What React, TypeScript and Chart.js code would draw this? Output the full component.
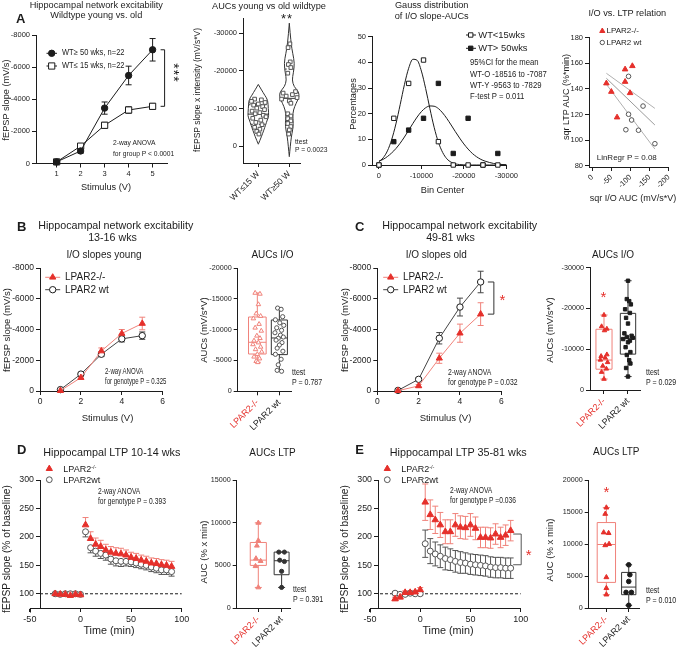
import React, { useEffect, useRef } from 'react';
import { Chart, registerables } from 'chart.js';
Chart.register(...registerables);

// ---------------- DATA ----------------
// A: wildtype young vs old I/O
const stimA = [1, 2, 3, 4, 5];
const wtOldIO = [-100, -780, -3450, -5480, -7080];
const wtOldIOErr = [60, 140, 380, 580, 700];
const wtYoungIO = [-100, -1080, -2380, -3330, -3560];
const wtYoungIOErr = [50, 90, 180, 200, 180];
const ioTicks = [-8000, -6000, -4000, -2000, 0];

// A: violin AUCs
const violinCats = ['WT≤15 W', 'WT≥50 W'];
const youngAUC = [-12500, -12300, -11900, -11600, -11200, -10900, -10500, -10100, -9700, -9300, -8900, -8600, -8200, -7800, -7400, -6900, -6300, -5700, -5000, -4500, -3900, -3200];
const youngJit = [-0.12, 0.1, -0.22, 0.22, 0.0, -0.15, 0.14, -0.05, 0.2, -0.2, 0.05, -0.1, 0.16, 0.25, -0.18, 0.08, -0.08, 0.12, -0.12, 0.05, -0.05, 0.02];
const oldAUC = [-27200, -26200, -22400, -21700, -20900, -19400, -14500, -14100, -13700, -13300, -12900, -12500, -12000, -11400, -8600, -8000, -7300, -6700, -6000, -5200, -4300, -3200];
const oldJit = [0.02, -0.04, 0.03, -0.03, 0.05, -0.05, 0.2, -0.2, 0.1, -0.1, 0.25, -0.25, 0.0, 0.05, -0.05, 0.05, -0.05, 0.05, -0.05, 0.05, 0.0, -0.02];
const youngViolinV = [-16400, -15000, -13500, -12200, -10000, -8000, -7000, -5500, -4300, -2500, -500];
const youngViolinW = [0, 0.1, 0.21, 0.31, 0.32, 0.34, 0.29, 0.23, 0.18, 0.1, 0];
const oldViolinV = [-32700, -27300, -24700, -22000, -19400, -17600, -15800, -14500, -13100, -11400, -9600, -7800, -6000, -4300, -2500, 200, 2800];
const oldViolinW = [0, 0.055, 0.11, 0.17, 0.13, 0.09, 0.15, 0.3, 0.32, 0.22, 0.13, 0.11, 0.13, 0.11, 0.065, 0.03, 0];
const youngMedQ = [-8500, -11000, -5800];
const oldMedQ = [-12700, -20500, -6500];
const aucTicksA = [-30000, -20000, -10000, 0];

// A: Gauss distribution
const binCenters = [0, -3500, -7000, -10500, -14000, -17500, -21000, -24500, -28000];
const youngPct = [0, 18.2, 31.8, 40.9, 9.1, 0, 0, 0, 0];
const oldPct = [0, 9.1, 13.6, 18.2, 31.8, 4.5, 18.2, 0, 4.5];
const fitX = [0, -1000, -2000, -3000, -4000, -5000, -6000, -7000, -8000, -9000, -10000, -11000, -12000, -13000, -14000, -15000, -16000, -17000, -18000, -19000, -20000, -21000, -22000, -23000, -24000, -25000, -26000, -27000, -28000, -29000, -30000];
const youngFit = [1.3, 2.8, 5.5, 9.9, 16.0, 23.5, 31.3, 37.7, 41.2, 40.8, 36.6, 29.8, 22.0, 14.7, 8.9, 4.9, 2.4, 1.1, 0.45, 0.17, 0.06, 0.02, 0, 0, 0, 0, 0, 0, 0, 0, 0];
const oldFit = [1.5, 2.2, 3.3, 4.7, 6.4, 8.5, 10.9, 13.5, 16.2, 18.7, 20.8, 22.3, 23.0, 22.9, 22.0, 20.3, 18.1, 15.6, 13.0, 10.5, 8.2, 6.2, 4.5, 3.2, 2.2, 1.5, 1.0, 0.6, 0.35, 0.2, 0.1];
const gaussTicksX = [0, -10000, -20000, -30000];
const gaussTicksY = [0, 10, 20, 30, 40, 50];

// A: I/O vs LTP
const koSqrIO = [-37, -50, -65, -86, -86, -99, -105];
const koSqrLTP = [144.4, 137.8, 117.8, 155.3, 145.6, 136.8, 157.9];
const wtSqrIO = [-95, -88, -95, -103, -133, -121, -164];
const wtSqrLTP = [149.8, 108.1, 120.2, 115.7, 126.6, 107.7, 97.2];
const regX = [-37, -164];
const regFit = [148.3, 111.8];
const regHi = [152.2, 124.8];
const regLo = [143.6, 93.0];
const sqrTicksX = [0, -50, -100, -150, -200];
const sqrTicksY = [80, 100, 120, 140, 160, 180];

// B: I/O young
const stimB = [1, 2, 3, 4, 5];
const bKO = [-20, -870, -2600, -3740, -4390];
const bKOErr = [30, 80, 200, 260, 410];
const bWT = [-90, -1100, -2390, -3390, -3600];
const bWTErr = [40, 80, 150, 200, 240];
const stimTicks = [0, 2, 4, 6];
const genoCats = ['LPAR2-/-', 'LPAR2 wt'];
const bKOAUC = [-15950, -15800, -14100, -12600, -12200, -11800, -10900, -10300, -9800, -9000, -8600, -8200, -7900, -7600, -7200, -6800, -6400, -6000, -5600, -5300, -4900, -4700];
const bKOJit = [-0.1, 0.12, 0.05, -0.05, 0.15, -0.18, 0.08, -0.1, 0.18, -0.02, 0.12, -0.15, 0.05, -0.2, 0.15, -0.08, 0.2, 0.0, -0.15, 0.1, -0.05, 0.02];
const bWTAUC = [-13500, -13300, -12100, -11600, -11100, -10700, -10300, -9900, -9500, -9100, -8800, -8600, -8300, -7900, -7500, -7000, -6500, -6000, -5200, -4300, -3400, -3250];
const bWTJit = [-0.08, 0.08, 0.15, -0.18, 0.02, 0.2, -0.12, 0.1, -0.2, 0.05, 0.18, -0.05, -0.15, 0.12, 0.0, -0.1, 0.16, -0.18, 0.08, -0.05, -0.1, 0.1];
const bBoxKO = [-4700, -6050, -7950, -12050, -15950];
const bBoxWT = [-3250, -5950, -8650, -11570, -13500];
const bAucTicks = [-20000, -15000, -10000, -5000, 0];

// C: I/O old
const cKO = [-20, -330, -2130, -3760, -5000];
const cKOErr = [30, 90, 330, 590, 740];
const cWT = [-40, -760, -3430, -5460, -7090];
const cWTErr = [40, 100, 370, 580, 700];
const cKOAUC = [-18400, -15600, -15000, -14600, -8700, -8300, -7900, -7400, -6800, -5900, -5200, -4400, -2700];
const cKOJit = [0.0, -0.1, 0.12, 0.02, 0.12, -0.12, 0.05, -0.15, 0.15, -0.05, 0.1, -0.1, 0.0];
const cWTAUC = [-26800, -22300, -21800, -21000, -19800, -18900, -17700, -16300, -13900, -13300, -13000, -12800, -12500, -12100, -11700, -10500, -9300, -8600, -7300, -6500, -5400, -3300];
const cWTJit = [0.0, -0.05, 0.05, 0.12, -0.12, 0.08, -0.08, 0.0, -0.15, 0.15, -0.05, 0.2, -0.2, 0.08, 0.0, -0.1, 0.1, -0.05, 0.05, 0.1, -0.08, 0.0];
const cBoxKO = [-2700, -5100, -7350, -14900, -18400];
const cBoxWT = [-3300, -8800, -12700, -18800, -26800];
const cAucTicks = [-30000, -20000, -10000, 0];

// D / E: LTP time courses
const ltpTime = [-25, -20, -15, -10, -5, 0, 5, 10, 15, 20, 25, 30, 35, 40, 45, 50, 55, 60, 65, 70, 75, 80, 85, 90];
const dKO = [100, 99, 99, 97, 99, 98, 221, 197, 187, 183, 177, 173, 171, 170, 168, 164, 162, 159, 157, 154, 153, 151, 150, 148];
const dKOErr = [2, 2, 2, 2, 2, 2, 13, 12, 11, 11, 10, 10, 10, 10, 9, 9, 9, 9, 9, 9, 9, 9, 9, 9];
const dWT = [100, 99, 100, 100, 100, 99, 209, 181, 175, 171, 168, 161, 158, 157, 157, 156, 154, 152, 150, 147, 145, 142, 142, 139];
const dWTErr = [2, 2, 2, 2, 2, 2, 9, 9, 9, 9, 9, 9, 9, 9, 8, 8, 8, 8, 8, 8, 8, 8, 8, 8];
const eKO = [91, 94, 102, 102, 103, 107, 261, 239, 230, 221, 209, 209, 221, 217, 216, 221, 215, 199, 199, 198, 205, 199, 203, 211];
const eKOErr = [3, 3, 3, 3, 3, 4, 32, 26, 24, 22, 21, 21, 20, 20, 20, 20, 20, 18, 18, 18, 18, 18, 18, 18];
const eWT = [101, 99, 99, 101, 100, 100, 188, 175, 170, 166, 162, 160, 157, 155, 154, 152, 151, 150, 149, 147, 146, 146, 145, 145];
const eWTErr = [2, 2, 2, 2, 2, 2, 24, 22, 21, 20, 20, 19, 19, 19, 18, 18, 18, 18, 18, 18, 18, 18, 18, 18];
const baselineX = [-40, 100];
const baselineY = [100, 100];
const timeTicks = [-50, 0, 50, 100];
const ltpTicks = [100, 150, 200, 250, 300];
const dKOAUC = [9980, 7900, 7300, 5800, 5500, 4900, 2410];
const dKOJit = [0.0, 0.0, -0.06, -0.1, 0.1, -0.12, 0.0];
const dWTAUC = [6550, 6550, 5600, 5450, 4300, 2410];
const dWTJit = [-0.12, 0.12, -0.08, 0.12, 0.0, 0.0];
const dBoxKO = [2410, 4990, 5610, 7680, 9980];
const dBoxWT = [2410, 3900, 5540, 6550, 6550];
const dAucTicks = [0, 5000, 10000, 15000];
const eKOAUC = [15690, 14700, 11800, 11700, 10000, 9800, 4800, 3100, 2100];
const eKOJit = [0.0, -0.05, -0.12, 0.1, 0.12, -0.05, 0.0, 0.0, 0.0];
const eWTAUC = [6750, 5200, 4150, 2440, 2440, 420];
const eWTJit = [0.0, 0.05, 0.0, -0.12, 0.12, 0.0];
const eBoxKO = [2080, 4000, 9920, 13350, 15690];
const eBoxWT = [420, 2080, 3270, 5560, 6750];
const eAucTicks = [0, 5000, 10000, 15000, 20000];

// ---------------- STYLE ----------------
const FONT = '"Liberation Sans", Arial, Helvetica, sans-serif';
const INK = '#1c1c1c';
const GRAY = '#555555';
const RED = '#e5302b';
const RED_L = '#f0827a';

type Fr = { cx: number; cy: number; w: number; h: number; L: number; R: number; T: number; B: number };

function axis(min: number, max: number, ticks: number[], size: number, o: any = {}) {
  return {
    type: 'linear', min, max, reverse: !!o.reverse,
    grid: { display: true, drawOnChartArea: false, drawTicks: true, tickLength: 4, color: INK, lineWidth: 1 },
    border: { display: true, color: INK, width: 1 },
    ticks: {
      autoSkip: false, maxRotation: o.rot ?? 0, minRotation: o.rot ?? 0, padding: o.pad ?? 2,
      font: { family: FONT, size }, color: o.colors ? (c: any) => o.colors[c.index] ?? INK : INK,
      callback: (v: number, i: number) => (o.labels ? o.labels[i] : String(v)),
    },
    afterBuildTicks: (s: any) => { s.ticks = ticks.map((v) => ({ value: v })); },
  };
}

function opts(f: Fr, xs: any, ys: any) {
  return {
    responsive: false, animation: false, devicePixelRatio: 1, events: [],
    layout: { padding: { left: 0, top: f.T - f.cy, right: f.cx + f.w - f.R, bottom: 0 } },
    plugins: { legend: { display: false }, tooltip: { enabled: false }, title: { display: false } },
    scales: {
      x: { ...xs, position: 'bottom', afterFit: (s: any) => { s.height = f.cy + f.h - f.B; } },
      y: { ...ys, position: 'left', afterFit: (s: any) => { s.width = f.L - f.cx; } },
    },
  };
}

function ds(xs: number[], ys: number[], o: any) {
  return { data: xs.map((x, i) => ({ x, y: ys[i] })), clip: false, showLine: false, borderWidth: 1, pointBorderWidth: 1, pointHoverRadius: 0, ...o };
}

function drawShape(ctx: CanvasRenderingContext2D, shape: string, x: number, y: number, r: number, fill?: string, stroke?: string) {
  ctx.beginPath();
  if (shape === 'circle') ctx.arc(x, y, r, 0, Math.PI * 2);
  else if (shape === 'rect') { const s = r * Math.SQRT1_2; ctx.rect(x - s, y - s, 2 * s, 2 * s); }
  else { ctx.moveTo(x, y - r); ctx.lineTo(x + r * 0.866, y + r * 0.5); ctx.lineTo(x - r * 0.866, y + r * 0.5); ctx.closePath(); }
  if (fill) { ctx.fillStyle = fill; ctx.fill(); }
  if (stroke) { ctx.strokeStyle = stroke; ctx.lineWidth = 1; ctx.stroke(); }
}

function errPlugin(id: string, sets: any[]) {
  return {
    id,
    beforeDatasetsDraw(chart: any) {
      const { ctx } = chart; const xs = chart.scales.x; const ys = chart.scales.y;
      for (const s of sets) {
        const data = chart.data.datasets[s.ds].data;
        ctx.save(); ctx.strokeStyle = s.color; ctx.lineWidth = 1;
        data.forEach((p: any, i: number) => {
          const e = s.err[i]; if (!e) return;
          const px = xs.getPixelForValue(p.x);
          const dir = s.dir || 'both';
          const ends: number[] = [];
          if (dir !== 'down') ends.push(ys.getPixelForValue(p.y + e));
          if (dir !== 'up') ends.push(ys.getPixelForValue(p.y - e));
          const pc = ys.getPixelForValue(p.y);
          ctx.beginPath();
          for (const yy of ends) {
            ctx.moveTo(px, pc); ctx.lineTo(px, yy);
            ctx.moveTo(px - s.cap, yy); ctx.lineTo(px + s.cap, yy);
          }
          ctx.stroke();
        });
        ctx.restore();
      }
    },
  };
}

function bracketPlugin(id: string, b: any) {
  return {
    id,
    afterDatasetsDraw(chart: any) {
      const { ctx } = chart; const px = chart.scales.x.getPixelForValue(b.x);
      const p1 = chart.scales.y.getPixelForValue(b.y1); const p2 = chart.scales.y.getPixelForValue(b.y2);
      ctx.save(); ctx.strokeStyle = b.color; ctx.lineWidth = 1; ctx.beginPath();
      ctx.moveTo(px - b.arm, p1); ctx.lineTo(px, p1); ctx.lineTo(px, p2); ctx.lineTo(px - b.arm, p2);
      ctx.stroke(); ctx.restore();
    },
  };
}

function marksPlugin(id: string, f: Fr, items: any[]) {
  return {
    id,
    afterDatasetsDraw(chart: any) {
      const { ctx } = chart; ctx.save(); ctx.translate(-f.cx, -f.cy);
      for (const it of items) {
        if (it.line) { ctx.beginPath(); ctx.strokeStyle = it.lineColor || INK; ctx.lineWidth = 1; ctx.moveTo(it.line[0], it.y); ctx.lineTo(it.line[1], it.y); ctx.stroke(); }
        drawShape(ctx, it.shape, it.x, it.y, it.r, it.fill, it.stroke);
      }
      ctx.restore();
    },
  };
}

function boxPlugin(id: string, boxes: any[]) {
  return {
    id,
    beforeDatasetsDraw(chart: any) {
      const { ctx } = chart; const xs = chart.scales.x; const ys = chart.scales.y;
      const unit = Math.abs(xs.getPixelForValue(1) - xs.getPixelForValue(0));
      for (const b of boxes) {
        const [lo, q1, med, q3, hi] = b.stats;
        const cx = xs.getPixelForValue(b.x); const hw = (b.w * unit) / 2; const cw = (b.cap * unit) / 2;
        const py = (v: number) => ys.getPixelForValue(v);
        ctx.save(); ctx.strokeStyle = b.color; ctx.lineWidth = 1; ctx.beginPath();
        ctx.rect(cx - hw, Math.min(py(q1), py(q3)), 2 * hw, Math.abs(py(q1) - py(q3)));
        ctx.moveTo(cx - hw, py(med)); ctx.lineTo(cx + hw, py(med));
        ctx.moveTo(cx, py(q3)); ctx.lineTo(cx, py(hi));
        ctx.moveTo(cx, py(q1)); ctx.lineTo(cx, py(lo));
        ctx.moveTo(cx - cw, py(hi)); ctx.lineTo(cx + cw, py(hi));
        ctx.moveTo(cx - cw, py(lo)); ctx.lineTo(cx + cw, py(lo));
        ctx.stroke(); ctx.restore();
      }
    },
  };
}

function violinPlugin(id: string, vs: any[]) {
  return {
    id,
    beforeDatasetsDraw(chart: any) {
      const { ctx } = chart; const xs = chart.scales.x; const ys = chart.scales.y;
      const unit = Math.abs(xs.getPixelForValue(1) - xs.getPixelForValue(0));
      for (const v of vs) {
        const cx = xs.getPixelForValue(v.x);
        const Rp = v.vals.map((val: number, i: number) => [cx + v.widths[i] * unit, ys.getPixelForValue(val)]);
        const Lp = v.vals.map((val: number, i: number) => [cx - v.widths[i] * unit, ys.getPixelForValue(val)]).reverse();
        const P = [...Rp, ...Lp];
        ctx.save(); ctx.strokeStyle = v.color; ctx.lineWidth = 1; ctx.beginPath();
        ctx.moveTo(P[0][0], P[0][1]);
        for (let i = 1; i < P.length - 1; i++) {
          ctx.quadraticCurveTo(P[i][0], P[i][1], (P[i][0] + P[i + 1][0]) / 2, (P[i][1] + P[i + 1][1]) / 2);
        }
        ctx.lineTo(P[P.length - 1][0], P[P.length - 1][1]);
        ctx.closePath(); ctx.stroke();
        const wAt = (val: number) => {
          for (let i = 0; i < v.vals.length - 1; i++) {
            if (val >= v.vals[i] && val <= v.vals[i + 1]) {
              const t = (val - v.vals[i]) / (v.vals[i + 1] - v.vals[i]);
              return (v.widths[i] + t * (v.widths[i + 1] - v.widths[i])) * unit;
            }
          }
          return 0;
        };
        const line = (val: number, dash: number[]) => {
          const w = wAt(val); const y = ys.getPixelForValue(val);
          ctx.setLineDash(dash); ctx.beginPath(); ctx.moveTo(cx - w, y); ctx.lineTo(cx + w, y); ctx.stroke();
        };
        line(v.stats[0], []); line(v.stats[1], [2, 2]); line(v.stats[2], [2, 2]);
        ctx.restore();
      }
    },
  };
}

function axisExtPlugin(id: string, fromVal: number) {
  return {
    id,
    afterDraw(chart: any) {
      const { ctx, chartArea } = chart; const p = chart.scales.x.getPixelForValue(fromVal);
      const yy = Math.round(chartArea.bottom) + 0.5;
      ctx.save(); ctx.strokeStyle = INK; ctx.lineWidth = 1; ctx.beginPath();
      ctx.moveTo(p, yy); ctx.lineTo(chartArea.left, yy);
      ctx.moveTo(Math.round(p) + 0.5, yy); ctx.lineTo(Math.round(p) + 0.5, yy + 4);
      ctx.stroke(); ctx.restore();
    },
  };
}

// ---------------- FRAMES ----------------
const fA1: Fr = { cx: 0, cy: 0, w: 200, h: 215, L: 36, R: 167, T: 35, B: 163.5 };
const fA2: Fr = { cx: 195, cy: 0, w: 135, h: 215, L: 243, R: 300, T: 18.3, B: 163 };
const fA3: Fr = { cx: 330, cy: 0, w: 190, h: 215, L: 372, R: 507.6, T: 36.7, B: 165 };
const fA4: Fr = { cx: 515, cy: 0, w: 162, h: 215, L: 589, R: 670, T: 37.7, B: 167 };
const fB1: Fr = { cx: 0, cy: 218, w: 200, h: 212, L: 40, R: 162.7, T: 268, B: 391 };
const fB2: Fr = { cx: 200, cy: 218, w: 138, h: 212, L: 237.7, R: 291.7, T: 268, B: 391.3 };
const fC1: Fr = { cx: 338, cy: 218, w: 200, h: 212, L: 377.3, R: 501.3, T: 268, B: 391 };
const fC2: Fr = { cx: 538, cy: 218, w: 139, h: 212, L: 590, R: 640, T: 267.7, B: 390 };
const fD1: Fr = { cx: 0, cy: 428, w: 200, h: 220, L: 40, R: 181.7, T: 480, B: 608 };
const fD2: Fr = { cx: 200, cy: 428, w: 138, h: 220, L: 236.7, R: 290, T: 480, B: 608 };
const fE1: Fr = { cx: 338, cy: 428, w: 200, h: 220, L: 378, R: 520.7, T: 480, B: 608 };
const fE2: Fr = { cx: 538, cy: 428, w: 139, h: 220, L: 588.7, R: 639.7, T: 480, B: 608 };

const jit = (c: number, j: number[]) => j.map((v) => c + v);

// ---------------- CHART CONFIGS ----------------
const makeA1 = () => ({
  type: 'scatter',
  data: { datasets: [
    ds(stimA, wtOldIO, { showLine: true, borderColor: INK, pointStyle: 'circle', pointRadius: 3.2, pointBackgroundColor: INK, pointBorderColor: INK }),
    ds(stimA, wtYoungIO, { showLine: true, borderColor: INK, pointStyle: 'rect', pointRadius: 4.4, pointBackgroundColor: '#fff', pointBorderColor: INK }),
  ] },
  options: opts(fA1, axis(0.14, 5.6, stimA, 7.5), axis(-8000, 0, ioTicks, 7.5, { reverse: true })),
  plugins: [
    errPlugin('eA1', [{ ds: 0, err: wtOldIOErr, color: INK, cap: 3 }, { ds: 1, err: wtYoungIOErr, color: INK, cap: 3 }]),
    bracketPlugin('bA1', { x: 5.5, y1: -7080, y2: -3560, arm: 4, color: INK }),
    marksPlugin('mA1', fA1, [
      { x: 51.7, y: 53.3, shape: 'circle', r: 3.2, fill: INK, stroke: INK, line: [46.5, 57] },
      { x: 51.7, y: 66, shape: 'rect', r: 4.4, fill: '#fff', stroke: INK, line: [46.5, 57] },
    ]),
  ],
});

const makeA2 = () => ({
  type: 'scatter',
  data: { datasets: [
    ds(jit(1, youngJit), youngAUC, { pointStyle: 'rect', pointRadius: 2.6, pointBackgroundColor: '#fff', pointBorderColor: GRAY }),
    ds(jit(2, oldJit), oldAUC, { pointStyle: 'rect', pointRadius: 2.6, pointBackgroundColor: '#fff', pointBorderColor: GRAY }),
  ] },
  options: opts(fA2, axis(0.506, 2.345, [1, 2], 8.5, { rot: 45, labels: violinCats }), axis(-34000, 4500, aucTicksA, 7.5, { reverse: true })),
  plugins: [violinPlugin('vA2', [
    { x: 1, vals: youngViolinV, widths: youngViolinW, stats: youngMedQ, color: '#333' },
    { x: 2, vals: oldViolinV, widths: oldViolinW, stats: oldMedQ, color: '#333' },
  ])],
});

const makeA3 = () => ({
  type: 'scatter',
  data: { datasets: [
    ds(binCenters, youngPct, { pointStyle: 'rect', pointRadius: 3.1, pointBackgroundColor: '#fff', pointBorderColor: INK }),
    ds(binCenters, oldPct, { pointStyle: 'rect', pointRadius: 3.1, pointBackgroundColor: INK, pointBorderColor: INK }),
    ds(fitX, youngFit, { showLine: true, pointRadius: 0, borderColor: INK, cubicInterpolationMode: 'monotone' }),
    ds(fitX, oldFit, { showLine: true, pointRadius: 0, borderColor: INK, cubicInterpolationMode: 'monotone' }),
  ] },
  options: opts(fA3, axis(-30000, 1633, gaussTicksX, 7.5, { reverse: true }), axis(0, 50, gaussTicksY, 7.5)),
  plugins: [marksPlugin('mA3', fA3, [
    { x: 470.7, y: 35, shape: 'rect', r: 3.1, fill: '#fff', stroke: INK, line: [466, 476] },
    { x: 470.7, y: 48.3, shape: 'rect', r: 3.1, fill: INK, stroke: INK, line: [466, 476] },
  ])],
});

const makeA4 = () => ({
  type: 'scatter',
  data: { datasets: [
    ds(koSqrIO, koSqrLTP, { pointStyle: 'triangle', pointRadius: 3.2, pointBackgroundColor: RED, pointBorderColor: RED }),
    ds(wtSqrIO, wtSqrLTP, { pointStyle: 'circle', pointRadius: 2.3, pointBackgroundColor: '#fff', pointBorderColor: GRAY }),
    ds(regX, regFit, { showLine: true, pointRadius: 0, borderColor: '#9a9a9a' }),
    ds(regX, regHi, { showLine: true, pointRadius: 0, borderColor: '#b0b0b0' }),
    ds(regX, regLo, { showLine: true, pointRadius: 0, borderColor: '#b0b0b0' }),
  ] },
  options: opts(fA4, axis(-200, 8.5, sqrTicksX, 7.5, { reverse: true, rot: 45 }), axis(79, 180, sqrTicksY, 7.5)),
  plugins: [marksPlugin('mA4', fA4, [
    { x: 602.3, y: 31, shape: 'triangle', r: 3, fill: RED, stroke: RED },
    { x: 602.3, y: 42.5, shape: 'circle', r: 2.2, fill: '#fff', stroke: GRAY },
  ])],
});

const ioLine = (f: Fr, ko: number[], koErr: number[], wt: number[], wtErr: number[], lx: number, id: string) => ({
  type: 'scatter',
  data: { datasets: [
    ds(stimB, ko, { showLine: true, borderColor: RED_L, pointStyle: 'triangle', pointRadius: 3.6, pointBackgroundColor: RED, pointBorderColor: RED }),
    ds(stimB, wt, { showLine: true, borderColor: '#444', pointStyle: 'circle', pointRadius: 3.2, pointBackgroundColor: '#fff', pointBorderColor: INK }),
  ] },
  options: opts(f, axis(0, 6, stimTicks, 8.5), axis(-8000, 0, ioTicks, 8.5, { reverse: true })),
  plugins: [
    errPlugin('e' + id, [{ ds: 0, err: koErr, color: RED_L, cap: 3 }, { ds: 1, err: wtErr, color: '#444', cap: 3 }]),
    marksPlugin('m' + id, f, [
      { x: lx, y: 277.3, shape: 'triangle', r: 3.6, fill: RED, stroke: RED, line: [lx - 7.5, lx + 7.5], lineColor: RED_L },
      { x: lx, y: 289.7, shape: 'circle', r: 3.2, fill: '#fff', stroke: INK, line: [lx - 7.5, lx + 7.5], lineColor: '#444' },
    ]),
  ],
});

const makeB1 = () => ioLine(fB1, bKO, bKOErr, bWT, bWTErr, 52.7, 'B1');
const makeC1 = () => {
  const c: any = ioLine(fC1, cKO, cKOErr, cWT, cWTErr, 390.7, 'C1');
  c.plugins.push(bracketPlugin('bC1', { x: 5.64, y1: -7090, y2: -5000, arm: 6, color: '#333' }));
  return c;
};

const makeBox = (f: Fr, xr: [number, number], yr: [number, number], ticks: number[], rev: boolean, dsets: any[], boxes: any[], id: string) => ({
  type: 'scatter',
  data: { datasets: dsets },
  options: opts(f, axis(xr[0], xr[1], [1, 2], 9, { rot: 45, labels: genoCats, colors: [RED, INK] }), axis(yr[0], yr[1], ticks, 7.2, { reverse: rev })),
  plugins: [boxPlugin('bx' + id, boxes)],
});

const makeB2 = () => makeBox(fB2, [0.109, 2.56], [-20000, 0], bAucTicks, true, [
  ds(jit(1, bKOJit), bKOAUC, { pointStyle: 'triangle', pointRadius: 2.6, pointBackgroundColor: '#fff', pointBorderColor: RED_L }),
  ds(jit(2, bWTJit), bWTAUC, { pointStyle: 'circle', pointRadius: 2.1, pointBackgroundColor: '#fff', pointBorderColor: GRAY }),
], [
  { x: 1, stats: bBoxKO, w: 0.8, cap: 0.32, color: RED_L },
  { x: 2, stats: bBoxWT, w: 0.73, cap: 0.32, color: '#333' },
], 'B2');

const makeC2 = () => makeBox(fC2, [0.417, 2.5], [-30000, 0], cAucTicks, true, [
  ds(jit(1, cKOJit), cKOAUC, { pointStyle: 'triangle', pointRadius: 2.6, pointBackgroundColor: RED, pointBorderColor: RED }),
  ds(jit(2, cWTJit), cWTAUC, { pointStyle: 'rect', pointRadius: 2.4, pointBackgroundColor: INK, pointBorderColor: INK }),
], [
  { x: 1, stats: cBoxKO, w: 0.67, cap: 0.3, color: RED_L },
  { x: 2, stats: cBoxWT, w: 0.64, cap: 0.3, color: '#333' },
], 'C2');

const ltpLine = (f: Fr, xmin: number, ko: number[], koErr: number[], wt: number[], wtErr: number[], both: boolean, lx: number, id: string) => ({
  type: 'scatter',
  data: { datasets: [
    ds(ltpTime, ko, { pointStyle: 'triangle', pointRadius: 3.8, pointBackgroundColor: RED, pointBorderColor: RED }),
    ds(ltpTime, wt, { pointStyle: 'circle', pointRadius: 3, pointBackgroundColor: '#fff', pointBorderColor: GRAY }),
    ds(baselineX, baselineY, { showLine: true, pointRadius: 0, borderColor: INK, borderDash: [3, 2], borderWidth: 1 }),
  ] },
  options: opts(f, axis(xmin, 100, timeTicks, 9), axis(75, 300, ltpTicks, 8.8)),
  plugins: [
    errPlugin('e' + id, [
      { ds: 0, err: koErr, color: RED_L, cap: 3, dir: both ? 'both' : 'up' },
      { ds: 1, err: wtErr, color: '#555', cap: 3, dir: both ? 'both' : 'down' },
    ]),
    axisExtPlugin('x' + id, -50),
    marksPlugin('m' + id, f, [
      { x: lx, y: 468.7, shape: 'triangle', r: 3.6, fill: RED, stroke: RED },
      { x: lx, y: 479.7, shape: 'circle', r: 2.9, fill: '#fff', stroke: GRAY },
    ]),
  ],
});

const makeD1 = () => ltpLine(fD1, -40, dKO, dKOErr, dWT, dWTErr, false, 49.3, 'D1');
const makeE1 = () => {
  const c: any = ltpLine(fE1, -42, eKO, eKOErr, eWT, eWTErr, true, 387.3, 'E1');
  c.plugins.push(bracketPlugin('bE1', { x: 100.5, y1: 205, y2: 151, arm: 8, color: '#555' }));
  return c;
};

const makeD2 = () => makeBox(fD2, [0.073, 2.36], [0, 15000], dAucTicks, false, [
  ds(jit(1, dKOJit), dKOAUC, { pointStyle: 'triangle', pointRadius: 2.8, pointBackgroundColor: RED_L, pointBorderColor: RED_L }),
  ds(jit(2, dWTJit), dWTAUC, { pointStyle: 'circle', pointRadius: 2.1, pointBackgroundColor: '#333', pointBorderColor: '#333' }),
], [
  { x: 1, stats: dBoxKO, w: 0.69, cap: 0.3, color: RED_L },
  { x: 2, stats: dBoxWT, w: 0.64, cap: 0.3, color: '#333' },
], 'D2');

const makeE2 = () => makeBox(fE2, [0.21, 2.49], [0, 20000], eAucTicks, false, [
  ds(jit(1, eKOJit), eKOAUC, { pointStyle: 'triangle', pointRadius: 2.8, pointBackgroundColor: RED, pointBorderColor: RED }),
  ds(jit(2, eWTJit), eWTAUC, { pointStyle: 'circle', pointRadius: 2.3, pointBackgroundColor: INK, pointBorderColor: INK }),
], [
  { x: 1, stats: eBoxKO, w: 0.82, cap: 0.32, color: RED_L },
  { x: 2, stats: eBoxWT, w: 0.64, cap: 0.3, color: '#333' },
], 'E2');

// ---------------- COMPONENTS ----------------
function ChartBox({ f, make }: { f: Fr; make: () => any }) {
  const ref = useRef<HTMLCanvasElement>(null);
  useEffect(() => {
    const chart = new Chart(ref.current as HTMLCanvasElement, make());
    return () => chart.destroy();
  }, []);
  return <canvas ref={ref} width={f.w} height={f.h} style={{ position: 'absolute', left: f.cx, top: f.cy, width: f.w, height: f.h }} />;
}

function T({ x, y, s = 10, c = INK, a = 'l', r = 0, n = 0, b = false, ls, children }: any) {
  const tx = a === 'c' ? '-50%' : a === 'r' ? '-100%' : '0%';
  const tf = `translate(${tx}, -50%)` + (r ? ` rotate(${r}deg)` : '') + (n ? ` scaleX(${n})` : '');
  return (
    <div style={{ position: 'absolute', left: x, top: y, fontFamily: FONT, fontSize: s, color: c, fontWeight: b ? 700 : 400, whiteSpace: 'nowrap', lineHeight: 1, transform: tf, transformOrigin: a === 'l' ? '0% 50%' : '50% 50%', letterSpacing: ls }}>
      {children}
    </div>
  );
}

const Sup = () => <span style={{ fontSize: '0.62em', position: 'relative', top: '-0.45em' }}>-/-</span>;

export default function App() {
  return (
    <div style={{ position: 'absolute', left: 0, top: 0, width: 677, height: 648, background: '#fff', overflow: 'hidden' }}>
      <ChartBox f={fA1} make={makeA1} />
      <ChartBox f={fA2} make={makeA2} />
      <ChartBox f={fA3} make={makeA3} />
      <ChartBox f={fA4} make={makeA4} />
      <ChartBox f={fB1} make={makeB1} />
      <ChartBox f={fB2} make={makeB2} />
      <ChartBox f={fC1} make={makeC1} />
      <ChartBox f={fC2} make={makeC2} />
      <ChartBox f={fD1} make={makeD1} />
      <ChartBox f={fD2} make={makeD2} />
      <ChartBox f={fE1} make={makeE1} />
      <ChartBox f={fE2} make={makeE2} />

      {/* Panel A */}
      <T x={20.8} y={18.3} s={13} b a="c">A</T>
      <T x={96.3} y={5.5} s={9.2} a="c">Hippocampal network excitability</T>
      <T x={96.3} y={16} s={9.2} a="c">Wildtype young vs. old</T>
      <T x={7} y={100} s={9.2} a="c" r={-90}>fEPSP slope (mV/s)</T>
      <T x={106} y={188} s={9.2} a="c">Stimulus (V)</T>
      <T x={62} y={53.3} s={8.2} n={0.92}>WT≥ 50 wks, n=22</T>
      <T x={62} y={66} s={8.2} n={0.92}>WT≤ 15 wks, n=22</T>
      <T x={113.3} y={143.3} s={8} n={0.84}>2-way ANOVA</T>
      <T x={113.3} y={154} s={8} n={0.84}>for group P &lt; 0.0001</T>
      <T x={174} y={73} s={14} a="c" r={90} ls={1}>***</T>

      <T x={269} y={7.3} s={9.2} a="c">AUCs young vs old wildtype</T>
      <T x={197} y={90} s={8.5} a="c" r={-90}>fEPSP slope x intensity (mV/s*V)</T>
      <T x={287} y={18} s={13} a="c" ls={1}>**</T>
      <T x={295} y={141.7} s={8} n={0.84}>ttest</T>
      <T x={295} y={149.5} s={8} n={0.84}>P = 0.0023</T>

      <T x={431.7} y={6} s={9.2} a="c">Gauss distribution</T>
      <T x={431.7} y={16.5} s={9.2} a="c">of I/O slope-AUCs</T>
      <T x={354} y={104} s={9.2} a="c" r={-90}>Percentages</T>
      <T x={442.5} y={190.7} s={9.2} a="c">Bin Center</T>
      <T x={478.3} y={35} s={9.4}>WT&lt;15wks</T>
      <T x={478.3} y={48.3} s={9.4}>WT&gt; 50wks</T>
      <T x={470} y={63} s={9.2} n={0.84}>95%CI for the mean</T>
      <T x={470} y={74.5} s={9.2} n={0.84}>WT-O -18516 to -7087</T>
      <T x={470} y={85.5} s={9.2} n={0.84}>WT-Y -9563 to -7829</T>
      <T x={470} y={97} s={9.2} n={0.84}>F-test P = 0.011</T>

      <T x={627.3} y={14} s={9.2} a="c">I/O vs. LTP relation</T>
      <T x={606.5} y={31} s={8}>LPAR2-/-</T>
      <T x={606.5} y={42.5} s={8}>LPAR2 wt</T>
      <T x={596.7} y={158.3} s={8}>LinRegr P = 0.08</T>
      <T x={566} y={97} s={9} a="c" r={-90}>sqr LTP AUC (%*min)</T>
      <T x={633} y={197.7} s={9} a="c">sqr I/O AUC (mV/s*V)</T>

      {/* Panel B */}
      <T x={21.7} y={226.3} s={13} b a="c">B</T>
      <T x={115.8} y={224.7} s={10.7} a="c">Hippocampal network excitability</T>
      <T x={112.5} y={237.3} s={10.7} a="c">13-16 wks</T>
      <T x={104} y={254.7} s={10} a="c">I/O slopes young</T>
      <T x={7.3} y={330} s={9.5} a="c" r={-90}>fEPSP slope (mV/s)</T>
      <T x={107.5} y={418} s={9.5} a="c">Stimulus (V)</T>
      <T x={65} y={277.3} s={10}>LPAR2-/-</T>
      <T x={65} y={289.7} s={10}>LPAR2 wt</T>
      <T x={105} y={372} s={8.2} n={0.74}>2-way ANOVA</T>
      <T x={105} y={382.3} s={8.2} n={0.74}>for genotype P = 0.325</T>
      <T x={272.5} y={254.7} s={10} a="c">AUCs I/O</T>
      <T x={204} y={329.7} s={9.5} a="c" r={-90}>AUCs (mV/s*V)</T>
      <T x={292} y={372} s={8.4} n={0.84}>ttest</T>
      <T x={292} y={382} s={8.4} n={0.84}>P = 0.787</T>

      {/* Panel C */}
      <T x={359.7} y={226.3} s={13} b a="c">C</T>
      <T x={459.7} y={224.7} s={10.7} a="c">Hippocampal network excitability</T>
      <T x={450.5} y={237.3} s={10.7} a="c">49-81 wks</T>
      <T x={436.3} y={254.7} s={10} a="c">I/O slopes old</T>
      <T x={345.3} y={330} s={9.5} a="c" r={-90}>fEPSP slope (mV/s)</T>
      <T x={445.5} y={418} s={9.5} a="c">Stimulus (V)</T>
      <T x={403} y={277.3} s={10}>LPAR2-/-</T>
      <T x={403} y={289.7} s={10}>LPAR2 wt</T>
      <T x={448} y={372} s={8.4} n={0.82}>2-way ANOVA</T>
      <T x={448} y={382.3} s={8.4} n={0.82}>for genotype P = 0.032</T>
      <T x={502.3} y={299} s={15} c={RED} a="c">*</T>
      <T x={613} y={254.7} s={10} a="c">AUCs I/O</T>
      <T x={549.7} y={329.7} s={9.5} a="c" r={-90}>AUCs (mV/s*V)</T>
      <T x={646.3} y={372} s={8.4} n={0.84}>ttest</T>
      <T x={646.3} y={382} s={8.4} n={0.84}>P = 0.029</T>
      <T x={603.3} y={296} s={15} c={RED} a="c">*</T>

      {/* Panel D */}
      <T x={21.7} y={449.3} s={13} b a="c">D</T>
      <T x={43.3} y={452} s={10.8}>Hippocampal LTP 10-14 wks</T>
      <T x={63.3} y={468.7} s={9}>LPAR2<Sup /></T>
      <T x={63.3} y={479.7} s={9}>LPAR2wt</T>
      <T x={7.3} y={549} s={10.2} a="c" r={-90}>fEPSP slope  (% of baseline)</T>
      <T x={109} y={629.7} s={10.8} a="c">Time (min)</T>
      <T x={98.3} y={490.7} s={8.4} n={0.8}>2-way ANOVA</T>
      <T x={98.3} y={500.7} s={8.4} n={0.8}>for genotype P = 0.393</T>
      <T x={272.5} y={453} s={10} a="c">AUCs LTP</T>
      <T x={204} y={551.7} s={9.5} a="c" r={-90}>AUC (% x min)</T>
      <T x={292.7} y={588.7} s={8.4} n={0.84}>ttest</T>
      <T x={292.7} y={598.7} s={8.4} n={0.84}>P = 0.391</T>

      {/* Panel E */}
      <T x={359.7} y={449.3} s={13} b a="c">E</T>
      <T x={389.7} y={452} s={10.8}>Hippocampal LTP 35-81 wks</T>
      <T x={401.3} y={468.7} s={9}>LPAR2<Sup /></T>
      <T x={401.3} y={479.7} s={9}>LPAR2wt</T>
      <T x={345.3} y={549} s={10.2} a="c" r={-90}>fEPSP slope  (% of baseline)</T>
      <T x={448} y={630} s={10.8} a="c">Time (min)</T>
      <T x={449.7} y={490.3} s={8.4} n={0.8}>2-way ANOVA</T>
      <T x={449.7} y={500.3} s={8.4} n={0.8}>for genotype P =0.036</T>
      <T x={528.7} y={554} s={15} c={RED} a="c">*</T>
      <T x={616.3} y={452.3} s={10} a="c">AUCs LTP</T>
      <T x={549.7} y={550} s={9.5} a="c" r={-90}>AUC (% x min)</T>
      <T x={646.3} y={589.7} s={8.4} n={0.84}>ttest</T>
      <T x={646.3} y={599.7} s={8.4} n={0.84}>P = 0.010</T>
      <T x={606.3} y={491} s={15} c={RED} a="c">*</T>
    </div>
  );
}
